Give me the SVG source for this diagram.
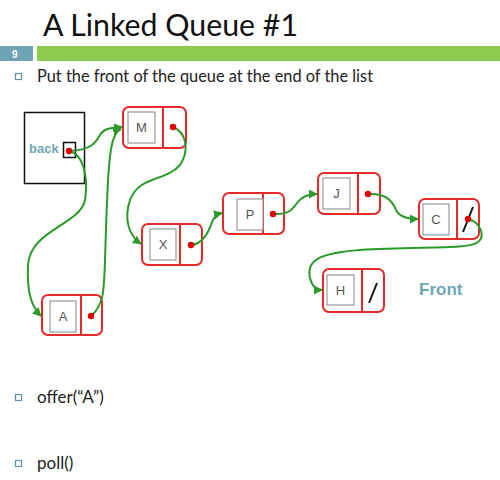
<svg xmlns="http://www.w3.org/2000/svg" width="500" height="480" viewBox="0 0 500 480">
  <style>
    .title { font-family: "Lato", "Open Sans", sans-serif; font-size: 30px; fill: #111; }
    .body { font-family: "Lato", "Open Sans", sans-serif; font-size: 17px; fill: #222; }
    .bullet { fill: none; stroke: #5e8fa3; stroke-width: 1.2; }
    .node { fill: #fff; stroke: #e42a2a; stroke-width: 2; }
    .div { stroke: #e42a2a; stroke-width: 2; }
    .cell { fill: #fff; stroke: #9a9a9a; stroke-width: 1.2; }
    .lbl { font-family: "Liberation Sans", Arial, sans-serif; font-size: 13px; fill: #555; text-anchor: middle; }
    .dot { fill: #e00000; }
    .null { stroke: #111; stroke-width: 2; }
    .link { fill: none; stroke: #2a9a2a; stroke-width: 2; marker-end: url(#arrow); }
    .teal { font-family: "Liberation Sans", Arial, sans-serif; font-weight: bold; fill: #6fa6b6; }
  </style>
  <defs>
    <marker id="arrow" viewBox="0 0 10 10" refX="9" refY="5" markerWidth="4.5" markerHeight="4.5" orient="auto" markerUnits="strokeWidth">
      <path d="M0,0 L10,5 L0,10 z" fill="#2a9a2a"/>
    </marker>
  </defs>

  <rect width="500" height="480" fill="#fff"/>

  <!-- heading -->
  <text class="title" x="43" y="36" textLength="255" lengthAdjust="spacingAndGlyphs">A Linked Queue #1</text>
  <rect x="0" y="46" width="33" height="15" fill="#6fa3b6"/>
  <text x="12" y="57.5" font-family="Liberation Sans, Arial, sans-serif" font-size="10" font-weight="bold" fill="#fff">9</text>
  <rect x="37" y="46" width="463" height="15" fill="#8ccb4e"/>

  <!-- bullet text -->
  <rect class="bullet" x="15.5" y="73.5" width="6" height="6"/>
  <text class="body" x="37" y="82" textLength="336" lengthAdjust="spacingAndGlyphs">Put the front of the queue at the end of the list</text>
  <rect class="bullet" x="15.5" y="394.5" width="6" height="6"/>
  <text class="body" x="37" y="403">offer(“A”)</text>
  <rect class="bullet" x="15.5" y="460.5" width="6" height="6"/>
  <text class="body" x="37" y="469">poll()</text>

  <!-- back reference -->
  <g id="back">
    <rect x="24.5" y="112.5" width="60" height="71" fill="#fff" stroke="#111" stroke-width="1.5"/>
    <rect x="63.5" y="142.5" width="12" height="15" fill="#fff" stroke="#111" stroke-width="1.5"/>
    <text class="teal" x="29" y="153" font-size="13">back</text>
  </g>

  <g id="node-M">
    <rect class="node" x="123" y="107" width="63" height="41" rx="6"/>
    <line class="div" x1="163" y1="107" x2="163" y2="148"/>
    <rect class="cell" x="128" y="112" width="27" height="31"/>
    <text class="lbl" x="141.5" y="132">M</text>
  </g>

  <g id="node-A">
    <rect class="node" x="42" y="295" width="60" height="40" rx="6"/>
    <line class="div" x1="81" y1="295" x2="81" y2="335"/>
    <rect class="cell" x="50" y="301" width="26" height="31"/>
    <text class="lbl" x="63" y="321">A</text>
  </g>

  <g id="node-X">
    <rect class="node" x="142" y="224" width="60" height="41" rx="6"/>
    <line class="div" x1="180" y1="224" x2="180" y2="265"/>
    <rect class="cell" x="150" y="229" width="26" height="31"/>
    <text class="lbl" x="163" y="249">X</text>
  </g>

  <g id="node-P">
    <rect class="node" x="223" y="193" width="61" height="41" rx="6"/>
    <line class="div" x1="263" y1="193" x2="263" y2="234"/>
    <rect class="cell" x="237" y="199" width="26" height="31"/>
    <text class="lbl" x="250" y="219">P</text>
  </g>

  <g id="node-J">
    <rect class="node" x="318" y="173" width="62" height="41" rx="6"/>
    <line class="div" x1="358" y1="173" x2="358" y2="214"/>
    <rect class="cell" x="323" y="178" width="27" height="31"/>
    <text class="lbl" x="336.5" y="198">J</text>
  </g>

  <g id="node-C">
    <rect class="node" x="419" y="199" width="60" height="40" rx="6"/>
    <line class="div" x1="457" y1="199" x2="457" y2="239"/>
    <rect class="cell" x="423" y="204" width="26" height="31"/>
    <text class="lbl" x="436" y="224">C</text>
    <line class="null" x1="463" y1="232" x2="473" y2="207"/>
  </g>

  <g id="node-H">
    <rect class="node" x="323" y="269" width="61" height="43" rx="6"/>
    <line class="div" x1="362" y1="269" x2="362" y2="312"/>
    <rect class="cell" x="327" y="275" width="27" height="30"/>
    <text class="lbl" x="340.5" y="295">H</text>
    <line class="null" x1="369" y1="303" x2="377" y2="283"/>
  </g>

  <text class="teal" x="419" y="295" font-size="17">Front</text>

  <!-- links -->
  <g id="connectors">
    <path class="link" d="M69,151 C92,150 96,142 100,135 C104,128 112,128 122,127"/>
    <path class="link" d="M69,151 C85,155 88,180 85,200 C80,225 30,230 28,265 C27,290 30,305 41,316"/>
    <path class="link" d="M91,316 C104,305 104,290 105,260 C107,200 108,150 114,138 C116,132 118,130 121,129"/>
    <path class="link" d="M173,127 C186,132 190,150 180,165 C165,182 140,175 130,200 C124,218 128,235 141,244"/>
    <path class="link" d="M191,245 C205,244 210,228 212,222 C214,216 218,214 222,213"/>
    <path class="link" d="M273,214 C288,215 292,210 297,203 C302,196 310,194 317,194"/>
    <path class="link" d="M368,194 C385,193 392,200 396,210 C400,218 410,219 418,219"/>
    <path class="link" d="M468,219 C480,222 486,236 478,242 C468,250 420,246 360,250 C320,253 306,260 310,278 C312,286 316,290 322,290"/>
  </g>

  <!-- reference dots drawn above the links -->
  <g id="dots">
    <circle class="dot" cx="69" cy="151" r="3.2"/>
    <circle class="dot" cx="173" cy="127" r="3.2"/>
    <circle class="dot" cx="91" cy="316" r="3.2"/>
    <circle class="dot" cx="191" cy="245" r="3.2"/>
    <circle class="dot" cx="273" cy="214" r="3.2"/>
    <circle class="dot" cx="368" cy="194" r="3.2"/>
    <circle class="dot" cx="468" cy="219" r="3.2"/>
  </g>
</svg>
